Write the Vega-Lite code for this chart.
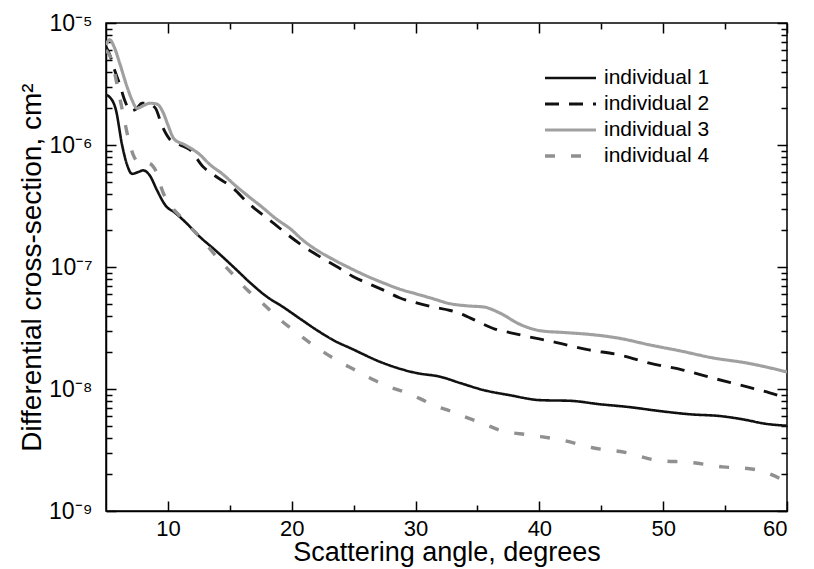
{
  "$schema": "https://vega.github.io/schema/vega-lite/v6.json",
  "autosize": "none",
  "width": 681,
  "height": 488,
  "padding": {"left": 106, "top": 23, "right": 27, "bottom": 58},
  "background": "white",
  "config": {
    "font": "Liberation Sans",
    "view": {"stroke": "black", "strokeWidth": 1.5},
    "axis": {"domainColor": "black", "domainWidth": 1.5, "tickColor": "black", "tickWidth": 1.5, "labelColor": "black", "titleColor": "black", "grid": false, "titleFontWeight": "normal", "labelFontSize": 23, "titleFontSize": 28, "ticks": true}
  },
  "data": {"values": [
    {"a": 5.0, "v": 2.57e-6, "s": "individual 1"},
    {"a": 5.3, "v": 2.47e-6, "s": "individual 1"},
    {"a": 5.8, "v": 1.94e-6, "s": "individual 1"},
    {"a": 6.3, "v": 1.0e-6, "s": "individual 1"},
    {"a": 6.7, "v": 6.9e-7, "s": "individual 1"},
    {"a": 7.1, "v": 5.8e-7, "s": "individual 1"},
    {"a": 7.6, "v": 6.0e-7, "s": "individual 1"},
    {"a": 8.0, "v": 6.2e-7, "s": "individual 1"},
    {"a": 8.55, "v": 5.6e-7, "s": "individual 1"},
    {"a": 9.1, "v": 4.3e-7, "s": "individual 1"},
    {"a": 9.8, "v": 3.2e-7, "s": "individual 1"},
    {"a": 10.6, "v": 2.77e-7, "s": "individual 1"},
    {"a": 11.4, "v": 2.34e-7, "s": "individual 1"},
    {"a": 12.6, "v": 1.76e-7, "s": "individual 1"},
    {"a": 13.8, "v": 1.38e-7, "s": "individual 1"},
    {"a": 15.3, "v": 1.0e-7, "s": "individual 1"},
    {"a": 16.6, "v": 7.5e-8, "s": "individual 1"},
    {"a": 18.0, "v": 5.7e-8, "s": "individual 1"},
    {"a": 19.3, "v": 4.7e-8, "s": "individual 1"},
    {"a": 20.7, "v": 3.75e-8, "s": "individual 1"},
    {"a": 22.0, "v": 3.05e-8, "s": "individual 1"},
    {"a": 23.5, "v": 2.47e-8, "s": "individual 1"},
    {"a": 24.7, "v": 2.17e-8, "s": "individual 1"},
    {"a": 27.4, "v": 1.63e-8, "s": "individual 1"},
    {"a": 30.1, "v": 1.35e-8, "s": "individual 1"},
    {"a": 32.0, "v": 1.26e-8, "s": "individual 1"},
    {"a": 33.6, "v": 1.12e-8, "s": "individual 1"},
    {"a": 35.5, "v": 9.8e-9, "s": "individual 1"},
    {"a": 37.6, "v": 8.9e-9, "s": "individual 1"},
    {"a": 40.1, "v": 8.1e-9, "s": "individual 1"},
    {"a": 42.5, "v": 8.0e-9, "s": "individual 1"},
    {"a": 44.9, "v": 7.5e-9, "s": "individual 1"},
    {"a": 47.3, "v": 7.1e-9, "s": "individual 1"},
    {"a": 49.7, "v": 6.6e-9, "s": "individual 1"},
    {"a": 52.2, "v": 6.2e-9, "s": "individual 1"},
    {"a": 54.6, "v": 6.0e-9, "s": "individual 1"},
    {"a": 56.6, "v": 5.6e-9, "s": "individual 1"},
    {"a": 58.2, "v": 5.2e-9, "s": "individual 1"},
    {"a": 60.0, "v": 5.0e-9, "s": "individual 1"},

    {"a": 5.0, "v": 6.4e-6, "s": "individual 2"},
    {"a": 5.3, "v": 5.5e-6, "s": "individual 2"},
    {"a": 5.7, "v": 4.1e-6, "s": "individual 2"},
    {"a": 6.1, "v": 3.16e-6, "s": "individual 2"},
    {"a": 6.5, "v": 2.34e-6, "s": "individual 2"},
    {"a": 7.0, "v": 1.9e-6, "s": "individual 2"},
    {"a": 7.5, "v": 2.0e-6, "s": "individual 2"},
    {"a": 7.9, "v": 2.2e-6, "s": "individual 2"},
    {"a": 8.4, "v": 2.2e-6, "s": "individual 2"},
    {"a": 9.0, "v": 2.0e-6, "s": "individual 2"},
    {"a": 9.5, "v": 1.46e-6, "s": "individual 2"},
    {"a": 10.2, "v": 1.1e-6, "s": "individual 2"},
    {"a": 11.0, "v": 1.0e-6, "s": "individual 2"},
    {"a": 11.8, "v": 9.1e-7, "s": "individual 2"},
    {"a": 12.8, "v": 6.7e-7, "s": "individual 2"},
    {"a": 13.8, "v": 5.6e-7, "s": "individual 2"},
    {"a": 15.3, "v": 4.4e-7, "s": "individual 2"},
    {"a": 16.4, "v": 3.4e-7, "s": "individual 2"},
    {"a": 17.4, "v": 2.8e-7, "s": "individual 2"},
    {"a": 18.5, "v": 2.3e-7, "s": "individual 2"},
    {"a": 19.7, "v": 1.83e-7, "s": "individual 2"},
    {"a": 20.9, "v": 1.49e-7, "s": "individual 2"},
    {"a": 22.3, "v": 1.21e-7, "s": "individual 2"},
    {"a": 23.7, "v": 1.0e-7, "s": "individual 2"},
    {"a": 24.9, "v": 8.4e-8, "s": "individual 2"},
    {"a": 26.2, "v": 7.3e-8, "s": "individual 2"},
    {"a": 27.5, "v": 6.4e-8, "s": "individual 2"},
    {"a": 28.7, "v": 5.6e-8, "s": "individual 2"},
    {"a": 30.0, "v": 5.1e-8, "s": "individual 2"},
    {"a": 31.4, "v": 4.7e-8, "s": "individual 2"},
    {"a": 32.8, "v": 4.4e-8, "s": "individual 2"},
    {"a": 34.0, "v": 4.0e-8, "s": "individual 2"},
    {"a": 35.2, "v": 3.5e-8, "s": "individual 2"},
    {"a": 36.4, "v": 3.1e-8, "s": "individual 2"},
    {"a": 37.6, "v": 2.9e-8, "s": "individual 2"},
    {"a": 39.0, "v": 2.7e-8, "s": "individual 2"},
    {"a": 41.4, "v": 2.4e-8, "s": "individual 2"},
    {"a": 43.9, "v": 2.1e-8, "s": "individual 2"},
    {"a": 46.5, "v": 1.9e-8, "s": "individual 2"},
    {"a": 48.9, "v": 1.63e-8, "s": "individual 2"},
    {"a": 51.6, "v": 1.43e-8, "s": "individual 2"},
    {"a": 54.0, "v": 1.23e-8, "s": "individual 2"},
    {"a": 56.8, "v": 1.04e-8, "s": "individual 2"},
    {"a": 58.6, "v": 9.3e-9, "s": "individual 2"},
    {"a": 60.0, "v": 8.4e-9, "s": "individual 2"},

    {"a": 5.0, "v": 6.6e-6, "s": "individual 3"},
    {"a": 5.3, "v": 7.3e-6, "s": "individual 3"},
    {"a": 5.65, "v": 6.4e-6, "s": "individual 3"},
    {"a": 6.1, "v": 4.7e-6, "s": "individual 3"},
    {"a": 6.7, "v": 3.0e-6, "s": "individual 3"},
    {"a": 7.1, "v": 2.34e-6, "s": "individual 3"},
    {"a": 7.5, "v": 2.0e-6, "s": "individual 3"},
    {"a": 8.0, "v": 2.1e-6, "s": "individual 3"},
    {"a": 8.55, "v": 2.2e-6, "s": "individual 3"},
    {"a": 9.1, "v": 2.17e-6, "s": "individual 3"},
    {"a": 9.6, "v": 1.86e-6, "s": "individual 3"},
    {"a": 10.0, "v": 1.46e-6, "s": "individual 3"},
    {"a": 10.5, "v": 1.12e-6, "s": "individual 3"},
    {"a": 11.4, "v": 1.0e-6, "s": "individual 3"},
    {"a": 12.6, "v": 8.3e-7, "s": "individual 3"},
    {"a": 13.4, "v": 6.9e-7, "s": "individual 3"},
    {"a": 14.4, "v": 5.8e-7, "s": "individual 3"},
    {"a": 15.4, "v": 4.7e-7, "s": "individual 3"},
    {"a": 16.5, "v": 3.8e-7, "s": "individual 3"},
    {"a": 17.6, "v": 3.1e-7, "s": "individual 3"},
    {"a": 18.7, "v": 2.5e-7, "s": "individual 3"},
    {"a": 19.9, "v": 2.05e-7, "s": "individual 3"},
    {"a": 20.9, "v": 1.66e-7, "s": "individual 3"},
    {"a": 22.0, "v": 1.38e-7, "s": "individual 3"},
    {"a": 23.3, "v": 1.16e-7, "s": "individual 3"},
    {"a": 24.7, "v": 9.8e-8, "s": "individual 3"},
    {"a": 26.1, "v": 8.4e-8, "s": "individual 3"},
    {"a": 27.4, "v": 7.4e-8, "s": "individual 3"},
    {"a": 28.7, "v": 6.6e-8, "s": "individual 3"},
    {"a": 30.1, "v": 6.0e-8, "s": "individual 3"},
    {"a": 31.4, "v": 5.5e-8, "s": "individual 3"},
    {"a": 32.8, "v": 5.0e-8, "s": "individual 3"},
    {"a": 34.2, "v": 4.8e-8, "s": "individual 3"},
    {"a": 35.5, "v": 4.7e-8, "s": "individual 3"},
    {"a": 36.8, "v": 4.2e-8, "s": "individual 3"},
    {"a": 38.4, "v": 3.4e-8, "s": "individual 3"},
    {"a": 40.1, "v": 3.0e-8, "s": "individual 3"},
    {"a": 42.1, "v": 2.9e-8, "s": "individual 3"},
    {"a": 44.1, "v": 2.8e-8, "s": "individual 3"},
    {"a": 46.5, "v": 2.6e-8, "s": "individual 3"},
    {"a": 48.9, "v": 2.3e-8, "s": "individual 3"},
    {"a": 51.4, "v": 2.05e-8, "s": "individual 3"},
    {"a": 54.0, "v": 1.8e-8, "s": "individual 3"},
    {"a": 56.8, "v": 1.63e-8, "s": "individual 3"},
    {"a": 60.0, "v": 1.38e-8, "s": "individual 3"},

    {"a": 5.0, "v": 6.0e-6, "s": "individual 4"},
    {"a": 5.5, "v": 4.8e-6, "s": "individual 4"},
    {"a": 5.9, "v": 3.1e-6, "s": "individual 4"},
    {"a": 6.4, "v": 1.76e-6, "s": "individual 4"},
    {"a": 6.8, "v": 1.14e-6, "s": "individual 4"},
    {"a": 7.2, "v": 8.3e-7, "s": "individual 4"},
    {"a": 7.75, "v": 7.1e-7, "s": "individual 4"},
    {"a": 8.4, "v": 7.1e-7, "s": "individual 4"},
    {"a": 9.0, "v": 6.2e-7, "s": "individual 4"},
    {"a": 9.6, "v": 4.1e-7, "s": "individual 4"},
    {"a": 10.2, "v": 3.2e-7, "s": "individual 4"},
    {"a": 11.0, "v": 2.6e-7, "s": "individual 4"},
    {"a": 11.8, "v": 2.13e-7, "s": "individual 4"},
    {"a": 12.8, "v": 1.66e-7, "s": "individual 4"},
    {"a": 14.0, "v": 1.19e-7, "s": "individual 4"},
    {"a": 15.2, "v": 8.8e-8, "s": "individual 4"},
    {"a": 16.4, "v": 6.5e-8, "s": "individual 4"},
    {"a": 17.6, "v": 5.1e-8, "s": "individual 4"},
    {"a": 18.8, "v": 3.9e-8, "s": "individual 4"},
    {"a": 20.1, "v": 3.05e-8, "s": "individual 4"},
    {"a": 21.5, "v": 2.38e-8, "s": "individual 4"},
    {"a": 22.7, "v": 1.97e-8, "s": "individual 4"},
    {"a": 23.9, "v": 1.66e-8, "s": "individual 4"},
    {"a": 25.3, "v": 1.4e-8, "s": "individual 4"},
    {"a": 26.6, "v": 1.19e-8, "s": "individual 4"},
    {"a": 27.9, "v": 1.04e-8, "s": "individual 4"},
    {"a": 29.3, "v": 9.3e-9, "s": "individual 4"},
    {"a": 30.4, "v": 8.3e-9, "s": "individual 4"},
    {"a": 31.4, "v": 7.4e-9, "s": "individual 4"},
    {"a": 32.8, "v": 6.6e-9, "s": "individual 4"},
    {"a": 34.2, "v": 5.8e-9, "s": "individual 4"},
    {"a": 35.5, "v": 5.2e-9, "s": "individual 4"},
    {"a": 36.8, "v": 4.6e-9, "s": "individual 4"},
    {"a": 39.2, "v": 4.2e-9, "s": "individual 4"},
    {"a": 41.9, "v": 3.8e-9, "s": "individual 4"},
    {"a": 44.3, "v": 3.3e-9, "s": "individual 4"},
    {"a": 47.1, "v": 3.0e-9, "s": "individual 4"},
    {"a": 49.5, "v": 2.6e-9, "s": "individual 4"},
    {"a": 52.2, "v": 2.5e-9, "s": "individual 4"},
    {"a": 54.8, "v": 2.3e-9, "s": "individual 4"},
    {"a": 57.3, "v": 2.2e-9, "s": "individual 4"},
    {"a": 60.0, "v": 1.73e-9, "s": "individual 4"}
  ]},
  "layer": [
    {
      "mark": {"type": "line", "interpolate": "monotone", "clip": true},
      "encoding": {
        "x": {"field": "a", "type": "quantitative",
          "scale": {"domain": [5, 60], "nice": false, "zero": false},
          "axis": {"orient": "bottom", "title": "Scattering angle, degrees", "titleFontSize": 27, "titlePadding": 0, "labelFontSize": 22,
            "values": [10, 20, 30, 40, 50, 60],
            "tickSize": -10, "labelPadding": 17}},
        "y": {"field": "v", "type": "quantitative",
          "scale": {"type": "log", "domain": [1e-9, 1e-5], "nice": false},
          "axis": {"orient": "left", "title": "Differential cross-section, cm²", "titleFontSize": 28, "titlePadding": 2, "labelFontSize": 23,
            "values": [1e-9, 1e-8, 1e-7, 1e-6, 1e-5],
            "labelExpr": "'10' + ({'-9': '⁻⁹', '-8': '⁻⁸', '-7': '⁻⁷', '-6': '⁻⁶', '-5': '⁻⁵'})[''+round(log(datum.value)/LN10)]",
            "tickSize": -10, "labelPadding": 24}},
        "color": {"field": "s", "type": "nominal",
          "scale": {"domain": ["individual 1", "individual 2", "individual 3", "individual 4"], "range": ["#111111", "#111111", "#a0a0a0", "#909090"]},
          "legend": {"title": null, "orient": "none", "legendX": 437, "legendY": 43, "symbolType": "stroke", "symbolSize": 2600, "labelFontSize": 21, "labelColor": "black", "rowPadding": 2, "clipHeight": 24, "labelOffset": 6}},
        "strokeDash": {"field": "s", "type": "nominal",
          "scale": {"domain": ["individual 1", "individual 2", "individual 3", "individual 4"], "range": [[1, 0], [14, 10], [1, 0], [10, 16]]},
          "legend": {"title": null, "orient": "none", "legendX": 437, "legendY": 43, "symbolType": "stroke", "symbolSize": 2600, "labelFontSize": 21, "labelColor": "black", "rowPadding": 2, "clipHeight": 24, "labelOffset": 6}},
        "strokeWidth": {"field": "s", "type": "nominal",
          "scale": {"domain": ["individual 1", "individual 2", "individual 3", "individual 4"], "range": [2.6, 3.4, 1.3, 1.4]},
          "legend": {"title": null, "orient": "none", "legendX": 437, "legendY": 43, "symbolType": "stroke", "symbolSize": 2600, "labelFontSize": 21, "labelColor": "black", "rowPadding": 2, "clipHeight": 24, "labelOffset": 6}}
      }
    },
    {
      "mark": {"type": "line", "opacity": 0},
      "encoding": {
        "x": {"field": "a", "type": "quantitative",
          "axis": {"orient": "top", "title": null, "labels": false, "domain": false,
            "values": [10, 20, 30, 40, 50, 60], "tickSize": -10}},
        "y": {"field": "v", "type": "quantitative",
          "axis": {"orient": "right", "title": null, "labels": false, "domain": false, "tickSize": -10,
            "values": [1e-9, 1e-8, 1e-7, 1e-6, 1e-5]}},
        "detail": {"field": "s"}
      }
    },
    {
      "mark": {"type": "line", "opacity": 0},
      "encoding": {
        "x": {"field": "a", "type": "quantitative",
          "axis": {"orient": "bottom", "title": null, "labels": false, "domain": false,
            "values": [15, 25, 35, 45, 55], "tickSize": -6}},
        "y": {"field": "v", "type": "quantitative",
          "axis": {"orient": "left", "title": null, "labels": false, "domain": false, "tickSize": -6,
            "values": [2e-9, 3e-9, 4e-9, 5e-9, 6e-9, 7e-9, 8e-9, 9e-9, 2e-8, 3e-8, 4e-8, 5e-8, 6e-8, 7e-8, 8e-8, 9e-8, 2e-7, 3e-7, 4e-7, 5e-7, 6e-7, 7e-7, 8e-7, 9e-7, 2e-6, 3e-6, 4e-6, 5e-6, 6e-6, 7e-6, 8e-6, 9e-6]}},
        "detail": {"field": "s"}
      }
    },
    {
      "mark": {"type": "line", "opacity": 0},
      "encoding": {
        "x": {"field": "a", "type": "quantitative",
          "axis": {"orient": "top", "title": null, "labels": false, "domain": false,
            "values": [15, 25, 35, 45, 55], "tickSize": -6}},
        "y": {"field": "v", "type": "quantitative",
          "axis": {"orient": "right", "title": null, "labels": false, "domain": false, "tickSize": -6,
            "values": [2e-9, 3e-9, 4e-9, 5e-9, 6e-9, 7e-9, 8e-9, 9e-9, 2e-8, 3e-8, 4e-8, 5e-8, 6e-8, 7e-8, 8e-8, 9e-8, 2e-7, 3e-7, 4e-7, 5e-7, 6e-7, 7e-7, 8e-7, 9e-7, 2e-6, 3e-6, 4e-6, 5e-6, 6e-6, 7e-6, 8e-6, 9e-6]}},
        "detail": {"field": "s"}
      }
    }
  ],
  "resolve": {"axis": {"x": "independent", "y": "independent"}}
}
